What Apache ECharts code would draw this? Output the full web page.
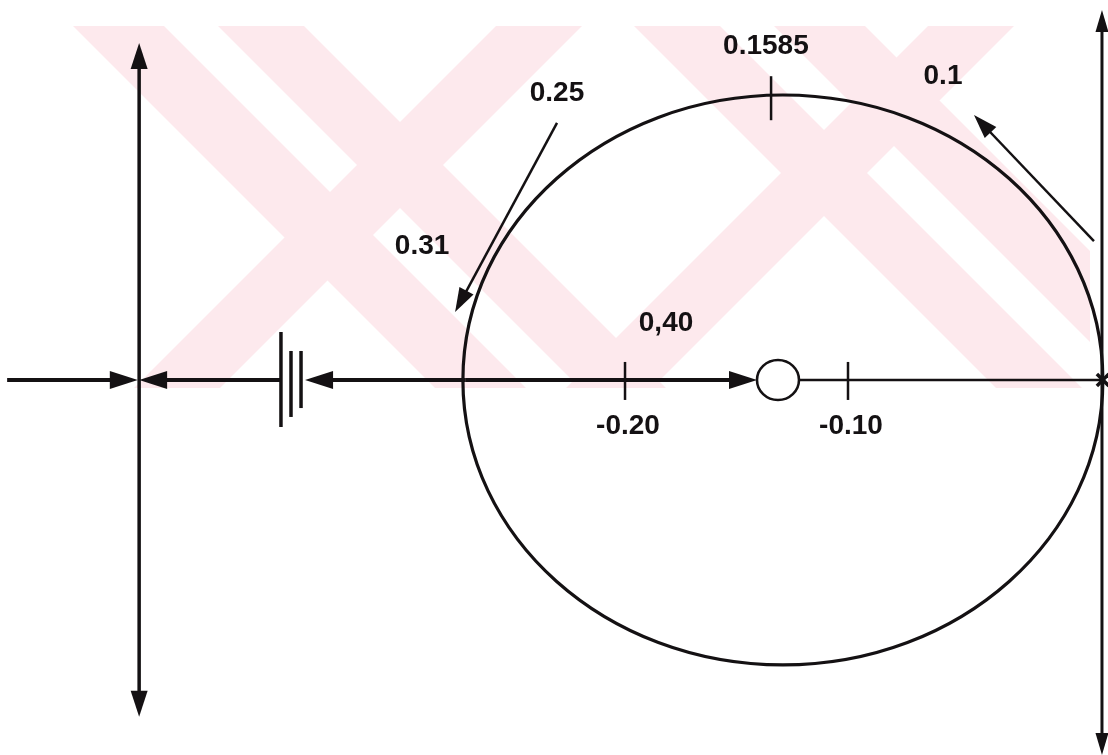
<!DOCTYPE html>
<html>
<head>
<meta charset="utf-8">
<title>Root locus</title>
<script src="https://cdn.jsdelivr.net/npm/echarts@6/dist/echarts.min.js"></script>
<style>
  html, body { margin: 0; padding: 0; background: #ffffff; }
  #chart { width: 1108px; height: 755px; }
</style>
</head>
<body>
<div id="chart"></div>
<script>
// ---- s-plane window (real part horizontally, imaginary part vertically) ----
const xExtent = [-0.4803, 0.0166];
const yExtent = [-0.1682, 0.1704];

// labelled ticks on the real axis
const realTicks = [-0.20, -0.10];

// open-loop pole and zero
const openLoopPole = [[0.0143, 0]];
const openLoopZero = [[-0.1314, 0]];

// circular part of the locus: centre x, centre y, half width, half height
const locusCircle = [[-0.1292, 0, 0.1435, 0.1278]];

// point on the circle marked with its gain (K = 0.1585)
const gainTick = [[-0.1345, 0.1277]];

// branches along the real axis: from (x1, y1) to (x2, y2), arrow at the end
const realAxisBranches = [
  [-0.4771, 0, -0.4185, 0],
  [-0.3543, 0, -0.4179, 0],
  [-0.2717, 0, -0.3435, 0],
  [-0.2717, 0, -0.1408, 0]
];

// branches leaving along the vertical asymptote
const asymptoteBranches = [
  [-0.4179, 0, -0.4179, 0.1511],
  [-0.4179, 0, -0.4179, -0.1511]
];

// imaginary axis through the pole
const imagAxis = [
  [0.0139, 0, 0.0139, 0.1659],
  [0.0139, 0, 0.0139, -0.1682]
];

// direction of travel along the circle
const circleDirections = [
  [-0.2305, 0.1153, -0.2762, 0.0305],
  [0.0103, 0.0623, -0.0435, 0.1188]
];

// real-axis segment between the zero and the pole
const zeroToPole = [[-0.1220, 0, 0.0143, 0]];

// triple bar on the real axis: x, top, bottom
const barMarks = [
  [-0.3543, 0.0215, -0.0211],
  [-0.3498, 0.0130, -0.0166],
  [-0.3453, 0.0130, -0.0126]
];

// gain values written beside the locus: x, y, text
const gainNoteX = [-0.1368, -0.0574, -0.2305, -0.2910, -0.1816];
const gainNoteY = [0.1498, 0.1363, 0.1285, 0.0601, 0.0256];
const gainNoteText = ['0.1585', '0.1', '0.25', '0.31', '0,40'];

// ---- styling ----
const INK = '#141113';
const PINK = '#fde9ed';
const FONT = '"Liberation Sans", Arial, Helvetica, sans-serif';

// background emblem: diagonal bands ("\" bands: x - y range, "/" bands: x + y range)
const emblemBox = [70, 26, 1090, 388];
const backBands = [[47, 138], [192, 278], [608, 694], [748, 839]];
const fwdBands = [[522, 608], [954, 1040]];

function clipHalf(pts, axis, val, keepGE) {
  const out = [];
  for (let i = 0; i < pts.length; i++) {
    const a = pts[i], b = pts[(i + 1) % pts.length];
    const ina = keepGE ? a[axis] >= val : a[axis] <= val;
    const inb = keepGE ? b[axis] >= val : b[axis] <= val;
    if (ina) out.push(a);
    if (ina !== inb) {
      const t = (val - a[axis]) / (b[axis] - a[axis]);
      out.push([a[0] + t * (b[0] - a[0]), a[1] + t * (b[1] - a[1])]);
    }
  }
  return out;
}
function clipToBox(pts, box) {
  let p = clipHalf(pts, 0, box[0], true);
  p = clipHalf(p, 0, box[2], false);
  p = clipHalf(p, 1, box[1], true);
  p = clipHalf(p, 1, box[3], false);
  return p;
}
function emblemElements() {
  const els = [];
  const y1 = -50, y2 = 800;
  backBands.forEach(([a, b]) => {
    els.push([[a + y1, y1], [b + y1, y1], [b + y2, y2], [a + y2, y2]]);
  });
  fwdBands.forEach(([a, b]) => {
    els.push([[a - y1, y1], [b - y1, y1], [b - y2, y2], [a - y2, y2]]);
  });
  return els.map(p => clipToBox(p, emblemBox)).filter(p => p.length > 2).map(p => ({
    type: 'polygon', silent: true, z: -10,
    shape: { points: p },
    style: { fill: PINK }
  }));
}

// line from p1 to p2 with an optional filled arrowhead at p2
function segmentRenderer(width, arrowLen, arrowHalf) {
  return function (params, api) {
    const p1 = api.coord([api.value(0), api.value(1)]);
    const p2 = api.coord([api.value(2), api.value(3)]);
    const dx = p2[0] - p1[0], dy = p2[1] - p1[1];
    const len = Math.hypot(dx, dy) || 1;
    const ux = dx / len, uy = dy / len;
    const children = [];
    if (arrowLen > 0) {
      const bx = p2[0] - ux * arrowLen, by = p2[1] - uy * arrowLen;
      children.push({
        type: 'line',
        shape: { x1: p1[0], y1: p1[1], x2: bx + ux * 2, y2: by + uy * 2 },
        style: { stroke: INK, lineWidth: width }
      });
      children.push({
        type: 'polygon',
        shape: { points: [[p2[0], p2[1]], [bx - uy * arrowHalf, by + ux * arrowHalf], [bx + uy * arrowHalf, by - ux * arrowHalf]] },
        style: { fill: INK }
      });
    } else {
      children.push({
        type: 'line',
        shape: { x1: p1[0], y1: p1[1], x2: p2[0], y2: p2[1] },
        style: { stroke: INK, lineWidth: width }
      });
    }
    return { type: 'group', children };
  };
}

function segmentSeries(data, width, arrowLen, arrowHalf) {
  return {
    type: 'custom',
    coordinateSystem: 'cartesian2d',
    silent: true,
    encode: { x: [0, 2], y: [1, 3] },
    data: data,
    renderItem: segmentRenderer(width, arrowLen, arrowHalf)
  };
}

// short vertical tick centred on a point
function tickRenderer(up, down, width) {
  return function (params, api) {
    const p = api.coord([api.value(0), api.value(1)]);
    return {
      type: 'line',
      shape: { x1: p[0], y1: p[1] - up, x2: p[0], y2: p[1] + down },
      style: { stroke: INK, lineWidth: width }
    };
  };
}

const chart = echarts.init(document.getElementById('chart'), null, { renderer: 'canvas' });

const option = {
  backgroundColor: '#ffffff',
  animation: false,
  graphic: { elements: emblemElements() },
  grid: { left: 0, right: 0, top: 0, bottom: 0, containLabel: false, outerBoundsMode: 'none' },
  xAxis: {
    type: 'value',
    min: xExtent[0],
    max: xExtent[1],
    show: false
  },
  yAxis: {
    type: 'value',
    min: yExtent[0],
    max: yExtent[1],
    show: false
  },
  series: [
    // circular branch of the locus
    {
      type: 'custom',
      coordinateSystem: 'cartesian2d',
      silent: true,
      encode: { x: 0, y: 1 },
      data: locusCircle,
      renderItem: function (params, api) {
        const c = api.coord([api.value(0), api.value(1)]);
        const s = api.size([api.value(2), api.value(3)]);
        return {
          type: 'ellipse',
          shape: { cx: c[0], cy: c[1], rx: s[0], ry: s[1] },
          style: { fill: 'none', stroke: INK, lineWidth: 3.2 }
        };
      }
    },
    segmentSeries(zeroToPole, 2.5, 0, 0),
    segmentSeries(realAxisBranches, 4, 28, 9),
    segmentSeries(asymptoteBranches, 3.5, 26, 8.5),
    segmentSeries(imagAxis, 3, 22, 6.5),
    segmentSeries(circleDirections, 2.5, 24, 8),
    // ticks on the real axis with their values underneath
    {
      type: 'custom',
      coordinateSystem: 'cartesian2d',
      silent: true,
      data: realTicks.map(v => [v, 0]),
      renderItem: function (params, api) {
        const p = api.coord([api.value(0), api.value(1)]);
        return {
          type: 'group',
          children: [
            { type: 'line', shape: { x1: p[0], y1: p[1] - 18, x2: p[0], y2: p[1] + 20 }, style: { stroke: INK, lineWidth: 2.5 } },
            {
              type: 'text', x: p[0] + 3, y: p[1] + 46,
              style: {
                text: api.value(0).toFixed(2),
                font: 'bold 28px ' + FONT,
                fill: INK, align: 'center', verticalAlign: 'middle'
              }
            }
          ]
        };
      }
    },
    // gain tick on the circle
    {
      type: 'custom',
      coordinateSystem: 'cartesian2d',
      silent: true,
      data: gainTick,
      renderItem: tickRenderer(19, 25, 2.5)
    },
    // triple bar
    {
      type: 'custom',
      coordinateSystem: 'cartesian2d',
      silent: true,
      encode: { x: 0, y: [1, 2] },
      data: barMarks,
      renderItem: function (params, api) {
        const t = api.coord([api.value(0), api.value(1)]);
        const b = api.coord([api.value(0), api.value(2)]);
        return {
          type: 'line',
          shape: { x1: t[0], y1: t[1], x2: b[0], y2: b[1] },
          style: { stroke: INK, lineWidth: 3.5 }
        };
      }
    },
    // open-loop zero
    {
      type: 'scatter',
      silent: true,
      data: openLoopZero,
      symbol: 'circle',
      symbolSize: [42, 40],
      itemStyle: { color: '#ffffff', borderColor: INK, borderWidth: 2.5, opacity: 1 },
      z: 5
    },
    // open-loop pole
    {
      type: 'custom',
      coordinateSystem: 'cartesian2d',
      silent: true,
      data: openLoopPole,
      z: 6,
      renderItem: function (params, api) {
        const p = api.coord([api.value(0), api.value(1)]);
        const h = 6;
        return {
          type: 'group',
          children: [
            { type: 'line', shape: { x1: p[0] - h, y1: p[1] - h, x2: p[0] + h, y2: p[1] + h }, style: { stroke: INK, lineWidth: 3.5 } },
            { type: 'line', shape: { x1: p[0] - h, y1: p[1] + h, x2: p[0] + h, y2: p[1] - h }, style: { stroke: INK, lineWidth: 3.5 } }
          ]
        };
      }
    },
    // gain values
    {
      type: 'custom',
      coordinateSystem: 'cartesian2d',
      silent: true,
      data: gainNoteX.map((x, i) => [x, gainNoteY[i]]),
      z: 7,
      renderItem: function (params, api) {
        const p = api.coord([api.value(0), api.value(1)]);
        return {
          type: 'text',
          x: p[0],
          y: p[1],
          style: {
            text: gainNoteText[params.dataIndex],
            font: 'bold 28px ' + FONT,
            fill: INK,
            align: 'center',
            verticalAlign: 'middle'
          }
        };
      }
    }
  ]
};

chart.setOption(option);
</script>
</body>
</html>
